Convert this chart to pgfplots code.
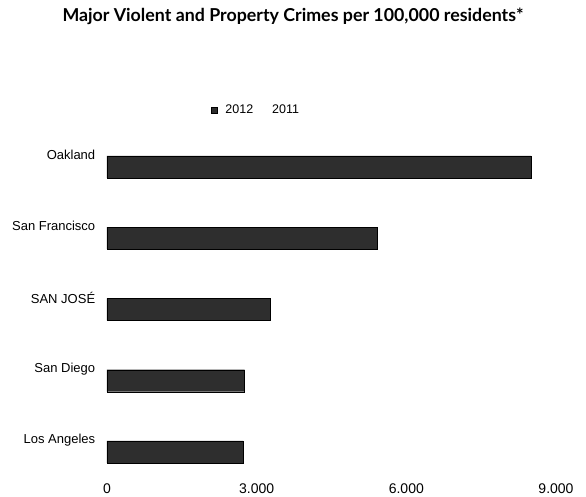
\documentclass[border=0pt]{standalone}
\usepackage{fontspec}
\setmainfont{Liberation Sans}
\newfontfamily\titlefont{Lato}
\usepackage{pgfplots}
\pgfplotsset{compat=1.18}
\begin{document}
\begin{tikzpicture}[x=1pt,y=1pt]
\path[use as bounding box] (0,0) rectangle (586,497);
\node[font=\titlefont\bfseries\fontsize{17.8}{20}\selectfont] at (293,481) {Major Violent and Property Crimes per 100,000 residents*};
\begin{axis}[
  at={(107pt,21.4pt)}, anchor=south west,
  scale only axis, width=449pt, height=356.25pt,
  xmin=0, xmax=9000, ymin=-0.5, ymax=4.5,
  enlargelimits=false,
  xbar, bar width=22pt, bar shift=-12pt,
  axis line style={draw=none}, tick style={draw=none},
  xtick={0,3000,6000,9000},
  ytick={0,1,2,3,4},
  yticklabels={Los Angeles, San Diego, SAN JOSÉ, San Francisco, Oakland},
  /pgf/number format/1000 sep={.},
  /pgf/number format/assume math mode=true,
  xticklabel style={font=\fontsize{14}{16}\selectfont, yshift=-5pt},
  yticklabel style={font=\fontsize{13}{15}\selectfont, xshift=-4pt},
  legend style={at={(0.332,1.027)}, anchor=center, draw=none, fill=none,
    font=\fontsize{12.5}{14}\selectfont,
    /tikz/every odd column/.append style={column sep=6pt},
    /tikz/every even column/.append style={column sep=3pt}},
  legend columns=2,
  legend image code/.code={\fill[#1] (0pt,-3pt) rectangle (6pt,3pt);},
]
\addplot[fill=black!82, draw=black] coordinates {
  (2730,0) (2760,1) (3270,2) (5420,3) (8500,4)
};
\addlegendentry{2012}
\addlegendimage{fill=white, draw=none}
\addlegendentry{2011}
\end{axis}
\end{tikzpicture}
\end{document}
